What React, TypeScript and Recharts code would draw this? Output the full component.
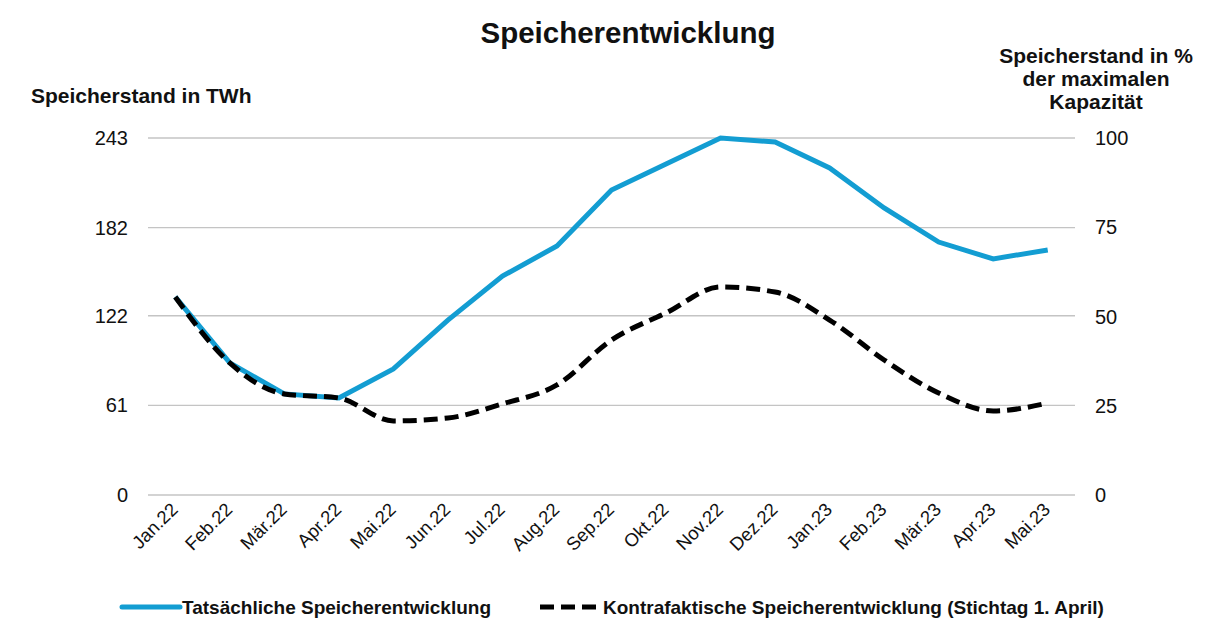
import React from "react";
import { LineChart, Line, XAxis, YAxis, CartesianGrid } from "recharts";

const months = ["Jan.22","Feb.22","Mär.22","Apr.22","Mai.22","Jun.22","Jul.22","Aug.22","Sep.22","Okt.22","Nov.22","Dez.22","Jan.23","Feb.23","Mär.23","Apr.23","Mai.23"];
const actual = [134.8, 89.9, 68.8, 66, 85.8, 119, 149, 169.5, 207.6, 225.3, 243, 240.3, 222.6, 195.4, 172.2, 160.7, 166.8];
const counterfactual = [134.8, 89.9, 68.8, 66, 50.4, 52.4, 62, 74.9, 105.5, 123.9, 141.6, 138.2, 119.1, 91.9, 69.4, 57.2, 62.6];
const maxCapacity = 243;
const leftTicks = [0, 61, 122, 182, 243];
const rightTicks = [0, 25, 50, 75, 100];

const data = months.map((m, i) => ({ m, a: actual[i], c: counterfactual[i], p: (actual[i] / maxCapacity) * 100 }));

const FONT = "'Liberation Sans', Arial, sans-serif";
const BLUE = "#139dd2";

const XTick = (props: any) => {
  const { x, y, payload } = props;
  return (
    <g transform={`translate(${x - 2},${y + 2})`}>
      <text textAnchor="end" transform="rotate(-45)" fontSize={18.5} fill="#111" fontFamily={FONT} dy={8}>
        {payload.value}
      </text>
    </g>
  );
};

export default function App() {
  return (
    <div style={{ position: "absolute", left: 0, top: 0, width: 1206, height: 629, background: "#fff", fontFamily: FONT }}>
      <LineChart
        width={1206}
        height={629}
        data={data}
        margin={{ top: 138, left: 88, right: 71, bottom: 54 }}
      >
        <CartesianGrid yAxisId="l" vertical={false} stroke="#c4c4c4" strokeWidth={1.3} />
        <XAxis
          dataKey="m"
          scale="band"
          axisLine={false}
          tickLine={false}
          interval={0}
          height={80}
          tick={<XTick />}
        />
        <YAxis
          yAxisId="l"
          domain={[0, 243]}
          ticks={leftTicks}
          axisLine={false}
          tickLine={false}
          width={60}
          tick={{ fontSize: 20, fill: "#111", fontFamily: FONT }}
          tickMargin={14}
        />
        <YAxis
          yAxisId="r"
          orientation="right"
          domain={[0, 100]}
          ticks={rightTicks}
          axisLine={false}
          tickLine={false}
          width={60}
          tick={{ fontSize: 20, fill: "#111", fontFamily: FONT }}
          tickMargin={14}
        />
        <Line yAxisId="r" dataKey="p" type="linear" stroke="none" strokeWidth={0} dot={false} activeDot={false} legendType="none" isAnimationActive={false} />
        <Line yAxisId="l" dataKey="a" type="linear" stroke={BLUE} strokeWidth={5} dot={false} isAnimationActive={false} />
        <Line yAxisId="l" dataKey="c" type="monotone" stroke="#000" strokeWidth={5} strokeDasharray="14 7" dot={false} isAnimationActive={false} />
      </LineChart>
      <div style={{ position: "absolute", left: 0, width: 1256, top: 16, textAlign: "center", fontSize: 29.5, fontWeight: "bold", color: "#111" }}>
        Speicherentwicklung
      </div>
      <div style={{ position: "absolute", left: 31, top: 84, fontSize: 21, fontWeight: "bold", color: "#111" }}>
        Speicherstand in TWh
      </div>
      <div style={{ position: "absolute", left: 986, width: 220, top: 44, textAlign: "center", fontSize: 21, lineHeight: "23px", fontWeight: "bold", color: "#111" }}>
        Speicherstand in %<br />der maximalen<br />Kapazität
      </div>
      <svg style={{ position: "absolute", left: 0, top: 590 }} width={1206} height={36}>
        <line x1={122} x2={180} y1={17} y2={17} stroke={BLUE} strokeWidth={5} strokeLinecap="round" />
        <text x={182} y={24} fontSize={19} fontWeight="bold" fontFamily={FONT} fill="#111">Tatsächliche Speicherentwicklung</text>
        <line x1={540} x2={601} y1={17} y2={17} stroke="#000" strokeWidth={5} strokeDasharray="14 7" />
        <text x={603} y={24} fontSize={19} fontWeight="bold" fontFamily={FONT} fill="#111">Kontrafaktische Speicherentwicklung (Stichtag 1. April)</text>
      </svg>
    </div>
  );
}
